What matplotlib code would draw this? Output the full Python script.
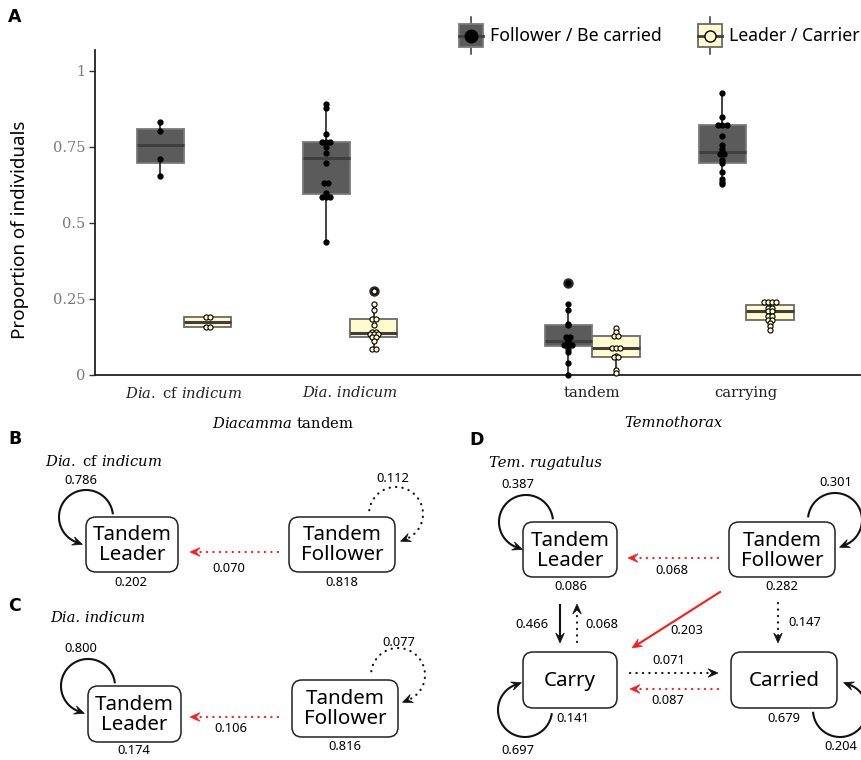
import numpy as np
import matplotlib
matplotlib.use('Agg')
import matplotlib.pyplot as plt
from matplotlib.patches import FancyBboxPatch, Rectangle, Polygon

SANS = 'Noto Sans'
SERIF = 'DejaVu Serif'
plt.rcParams['mathtext.fontset'] = 'custom'
plt.rcParams['mathtext.rm'] = SERIF
plt.rcParams['mathtext.it'] = SERIF + ':italic'

W, H = 862, 760

# ---- panel A: proportions per colony ----
tick_labels = [r'$\mathit{Dia.}$ cf $\mathit{indicum}$', 'Dia. indicum',
               'tandem', 'carrying']
follower_cf = [0.831, 0.804, 0.711, 0.656]
leader_cf = [0.190, 0.190, 0.158, 0.158]
follower_ind = [0.890, 0.878, 0.792, 0.768, 0.768, 0.768, 0.750, 0.729,
                0.697, 0.632, 0.632, 0.598, 0.586, 0.586, 0.586, 0.436]
leader_ind = [0.275, 0.232, 0.214, 0.183, 0.183, 0.163, 0.143, 0.143,
              0.136, 0.136, 0.136, 0.125, 0.125, 0.111, 0.086, 0.086]
follower_tandem = [0.304, 0.232, 0.213, 0.167, 0.164, 0.124, 0.124, 0.115,
                   0.110, 0.099, 0.099, 0.099, 0.086, 0.076, 0.039, 0.0]
leader_tandem = [0.153, 0.143, 0.128, 0.128, 0.090, 0.090, 0.090, 0.063,
                 0.058, 0.058, 0.016, 0.005]
follower_carry = [0.927, 0.849, 0.822, 0.822, 0.822, 0.787, 0.758, 0.743,
                  0.735, 0.728, 0.728, 0.706, 0.696, 0.667, 0.645, 0.634, 0.627]
leader_carry = [0.239, 0.239, 0.239, 0.239, 0.222, 0.222, 0.211, 0.211,
                0.195, 0.195, 0.181, 0.181, 0.172, 0.161, 0.149]

followers = [follower_cf, follower_ind, follower_tandem, follower_carry]
leaders = [leader_cf, leader_ind, leader_tandem, leader_carry]

# ---- panels B-D: transition probabilities ----
# order: leader self, follower self, follower->leader, leader stay, follower stay
probs_b = [0.786, 0.112, 0.070, 0.202, 0.818]
probs_c = [0.800, 0.077, 0.106, 0.174, 0.816]
# order: leader self, follower self, follower->leader, leader stay, follower stay,
#        leader->carry, carry->leader, follower->carry, follower->carried,
#        carry->carried, carried->carry, carry stay, carried stay, carry self, carried self
probs_d = [0.387, 0.301, 0.068, 0.086, 0.282, 0.466, 0.068, 0.203, 0.147,
           0.071, 0.087, 0.141, 0.679, 0.697, 0.204]

DARK = '#5b5b5b'
DARK_EDGE = '#7a7a7a'
LIGHT = '#fffbcc'
LIGHT_EDGE = '#6a6a6a'


def dot_offsets(vals, spacing):
    vals = np.asarray(vals)
    offs = np.zeros(len(vals))
    for v in np.unique(vals):
        idx = np.where(vals == v)[0]
        offs[idx] = (np.arange(len(idx)) - (len(idx) - 1) / 2) * spacing
    return offs


fig = plt.figure(figsize=(W / 100, H / 100), dpi=100)
ax = fig.add_axes([95 / W, 1 - 375 / H, 765 / W, 325 / H])

pos = [0, 1, 2.458, 3.386]
off = 0.143
bw = 0.286

for i in range(4):
    for vals, x, fc, ec, filled in ((followers[i], pos[i] - off, DARK, DARK_EDGE, True),
                                    (leaders[i], pos[i] + off, LIGHT, LIGHT_EDGE, False)):
        ax.boxplot([vals], positions=[x], widths=bw, patch_artist=True,
                   showcaps=False, whis=1.5, manage_ticks=False,
                   boxprops=dict(facecolor=fc, edgecolor=ec, linewidth=1.3),
                   medianprops=dict(color='#3f3f3f', linewidth=2.2),
                   whiskerprops=dict(color='#111111', linewidth=1.1),
                   flierprops=dict(marker='o', markersize=6.5, markerfacecolor='#2a2a2a',
                                   markeredgecolor='#2a2a2a'),
                   zorder=2)
        offs = dot_offsets(vals, 0.025)
        if filled:
            ax.plot(x + offs, vals, 'o', ms=3.5, mfc='black', mec='black', zorder=4,
                    clip_on=False)
        else:
            ax.plot(x + offs, vals, 'o', ms=3.7, mfc=LIGHT, mec='black', mew=0.8,
                    zorder=4, clip_on=False)

ax.set_xlim(-0.536, 4.072)
ax.set_ylim(0, 1.069)
for s in ('top', 'right'):
    ax.spines[s].set_visible(False)
for s in ('left', 'bottom'):
    ax.spines[s].set_color('#222222')
    ax.spines[s].set_linewidth(1.3)
ax.set_yticks([0, 0.25, 0.5, 0.75, 1])
ax.set_yticklabels(['0', '0.25', '0.5', '0.75', '1'])
ax.tick_params(axis='y', length=4, width=1, color='#333333', labelcolor='#777777',
               labelsize=10.5, pad=3)
for lbl in ax.get_yticklabels():
    lbl.set_family(SERIF)
ax.set_xticks(pos)
ax.set_xticklabels(tick_labels)
ax.tick_params(axis='x', length=0, labelsize=10.6, pad=8, labelcolor='#222222')
for lbl in ax.get_xticklabels():
    lbl.set_family(SERIF)
ax.get_xticklabels()[1].set_style('italic')

# ---- overlay in pixel units ----
ov = fig.add_axes([0, 0, 1, 1])
ov.set_xlim(0, W)
ov.set_ylim(H, 0)
ov.axis('off')

ov.text(20, 230, 'Proportion of individuals', rotation=90, ha='center', va='center',
        fontsize=13.5, family=SANS)
ov.text(283, 423, r'$\mathit{Diacamma}$ tandem', ha='center', va='center',
        fontsize=10.6, family=SERIF)
ov.text(673, 423, 'Temnothorax', ha='center', va='center', fontsize=10.6,
        family=SERIF, style='italic')

for letter, x, y in (('A', 15, 17), ('B', 15, 439), ('C', 15, 606), ('D', 477, 440)):
    ov.text(x, y, letter, ha='center', va='center', fontsize=12.5, fontweight='bold',
            family='DejaVu Sans')

# legend
for x0, fc, ec, filled, label in ((459, DARK, DARK_EDGE, True, 'Follower / Be carried'),
                                  (698, LIGHT, LIGHT_EDGE, False, 'Leader / Carrier')):
    xc = x0 + 12
    ov.plot([xc, xc], [17, 54], color='#333333', lw=1.1, zorder=1)
    ov.add_patch(Rectangle((x0, 24), 24, 23, fc=fc, ec=ec, lw=1.3, zorder=2))
    ov.plot([x0, x0 + 24], [35.5, 35.5], color='#3f3f3f', lw=2, zorder=3)
    if filled:
        ov.plot(xc, 35.5, 'o', ms=9, mfc='black', mec='black', zorder=4)
    else:
        ov.plot(xc, 35.5, 'o', ms=8, mfc=LIGHT, mec='black', mew=1, zorder=4)
    ov.text(x0 + 31, 36, label, ha='left', va='center', fontsize=12.7, family=SANS)

RED = '#ff1a1a'
INK = '#111111'
HL = 10


def node(x0, y0, x1, y1, label):
    ov.add_patch(FancyBboxPatch((x0, y0), x1 - x0, y1 - y0,
                                boxstyle='round,pad=0,rounding_size=10',
                                fc='white', ec='#222222', lw=1.1, zorder=3))
    ov.text((x0 + x1) / 2, (y0 + y1) / 2 + 1, label, ha='center', va='center',
            fontsize=14.8, family=SANS, linespacing=1.0, zorder=4)


def head(tip, d, color):
    d = np.asarray(d, float)
    d = d / np.hypot(*d)
    n = np.array([-d[1], d[0]])
    tip = np.asarray(tip, float)
    pts = [tip, tip - HL * d + 4.3 * n, tip - 0.6 * HL * d, tip - HL * d - 4.3 * n]
    ov.add_patch(Polygon(pts, closed=True, fc=color, ec=color, lw=0.5, zorder=5))


def line_style(dotted):
    if dotted:
        return dict(lw=1.6, ls=(0, (0.1, 2.8)), dash_capstyle='round')
    return dict(lw=1.5, ls='-')


def straight(p0, p1, color, dotted=False):
    p0 = np.asarray(p0, float)
    p1 = np.asarray(p1, float)
    u = (p1 - p0) / np.hypot(*(p1 - p0))
    base = p1 - 0.7 * HL * u
    ov.plot([p0[0], base[0]], [p0[1], base[1]], color=color, zorder=2,
            **line_style(dotted))
    head(p1, u, color)


def loop(c, r, a0, a1, color, dotted=False):
    t = np.radians(np.linspace(a0, a1, 100))
    xs = c[0] + r * np.cos(t)
    ys = c[1] - r * np.sin(t)
    ov.plot(xs, ys, color=color, zorder=2, **line_style(dotted))
    sgn = np.sign(a1 - a0)
    d = sgn * np.array([-np.sin(t[-1]), -np.cos(t[-1])])
    head(np.array([xs[-1], ys[-1]]) + 0.6 * HL * d, d, color)


def num(x, y, v):
    ov.text(x, y, f'{v:.3f}', ha='center', va='center', fontsize=9.3, family=SANS,
            zorder=6)


# panel B
ov.text(104, 461, r'$\mathit{Dia.}$ cf $\mathit{indicum}$', ha='center', va='center',
        fontsize=10.6, family=SERIF)
node(86, 517, 178, 572, 'Tandem\nLeader')
node(289, 517, 395, 572, 'Tandem\nFollower')
loop((86, 517), 27, 8, 250, INK)
loop((396, 514), 27, 172, -68, INK, dotted=True)
straight((278, 552), (190, 552), RED, dotted=True)
num(81, 481, probs_b[0])
num(393, 478, probs_b[1])
num(229, 568, probs_b[2])
num(131, 583, probs_b[3])
num(342, 583, probs_b[4])

# panel C
ov.text(98, 618, 'Dia. indicum', ha='center', va='center',
        fontsize=10.6, family=SERIF, style='italic')
node(88, 686, 181, 742, 'Tandem\nLeader')
node(292, 680, 398, 737, 'Tandem\nFollower')
loop((88, 686), 27, 8, 250, INK)
loop((398, 675), 27, 172, -68, INK, dotted=True)
straight((278, 717), (190, 717), RED, dotted=True)
num(81, 649, probs_c[0])
num(399, 642, probs_c[1])
num(231, 728, probs_c[2])
num(134, 751, probs_c[3])
num(345, 746, probs_c[4])

# panel D
ov.text(546, 463, 'Tem. rugatulus', ha='center', va='center', fontsize=10.6,
        family=SERIF, style='italic')
node(523, 522, 617, 577, 'Tandem\nLeader')
node(729, 522, 835, 577, 'Tandem\nFollower')
node(523, 652, 617, 708, 'Carry')
node(731, 652, 837, 708, 'Carried')
loop((526, 522), 27, 8, 250, INK)
loop((835, 520), 27, 172, -68, INK)
loop((525, 710), 27, -9, -250, INK)
loop((840, 710), 27, 186, 430, INK)
straight((718, 558), (628, 558), RED, dotted=True)
straight((560, 605), (560, 643), INK)
straight((577, 642), (577, 604), INK, dotted=True)
straight((720, 592), (632, 648), RED)
straight((778, 603), (778, 643), INK, dotted=True)
straight((630, 673), (718, 673), INK, dotted=True)
straight((718, 689), (630, 689), RED, dotted=True)
num(518, 485, probs_d[0])
num(836, 483, probs_d[1])
num(672, 570, probs_d[2])
num(571, 587, probs_d[3])
num(782, 587, probs_d[4])
num(532, 624, probs_d[5])
num(602, 624, probs_d[6])
num(687, 630, probs_d[7])
num(805, 623, probs_d[8])
num(669, 660, probs_d[9])
num(668, 700, probs_d[10])
num(573, 718, probs_d[11])
num(784, 718, probs_d[12])
num(518, 751, probs_d[13])
num(841, 747, probs_d[14])

fig.savefig('out.png', dpi=100)
